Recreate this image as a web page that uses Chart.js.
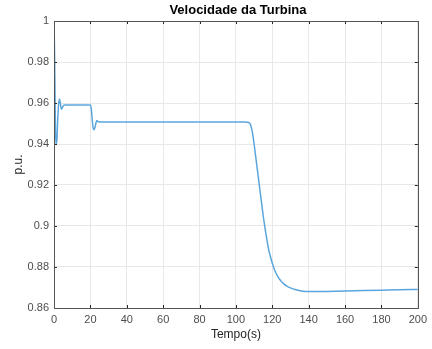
<!DOCTYPE html>
<html>
<head>
<meta charset="utf-8">
<script src="https://cdn.jsdelivr.net/npm/chart.js@4/dist/chart.umd.min.js"></script>
<style>
  html, body { margin: 0; padding: 0; background: #fff; }
  #wrap { width: 432px; height: 349px; }
</style>
</head>
<body>
<div id="wrap"><canvas id="chart" width="432" height="349"></canvas></div>
<script>
// values
const titulo = 'Velocidade da Turbina';
const tempo = [0, 0.3, 0.6, 1.0, 1.5, 2.0, 2.5, 3.0, 3.5, 4.0, 4.5, 5.0, 6.0, 8, 10, 15, 20,
  20.5, 21, 21.5, 22, 22.5, 23, 23.5, 24, 25, 27, 30, 50, 80, 100, 105, 107, 108,
  109, 110, 111, 112, 113, 114, 115, 116, 117, 118, 119, 120, 121, 122, 123, 124,
  125, 126, 128, 130, 133, 136, 140, 145, 150, 160, 170, 180, 190, 200];
const velocidade = [1.0, 0.985, 0.962, 0.940, 0.941, 0.951, 0.959, 0.962, 0.960, 0.957, 0.9575, 0.9585, 0.959, 0.959, 0.959, 0.959, 0.959,
  0.957, 0.952, 0.948, 0.947, 0.948, 0.950, 0.9515, 0.951, 0.9507, 0.9507, 0.9507, 0.9507, 0.9507, 0.9507, 0.9507, 0.9505, 0.9495,
  0.946, 0.940, 0.933, 0.926, 0.919, 0.912, 0.905, 0.899, 0.8935, 0.8885, 0.8850, 0.8818, 0.8792, 0.8771, 0.8754, 0.8740,
  0.8729, 0.8720, 0.8707, 0.8698, 0.8689, 0.8683, 0.8680, 0.8680, 0.8681, 0.8683, 0.8685, 0.8687, 0.8689, 0.8690];
const xTicks = [0, 20, 40, 60, 80, 100, 120, 140, 160, 180, 200];
const yTicks = [0.86, 0.88, 0.9, 0.92, 0.94, 0.96, 0.98, 1];

const pts = tempo.map((t, i) => ({ x: t, y: velocidade[i] }));

// MATLAB-like box, inward ticks and title centred on the axes
const boxPlugin = {
  id: 'box',
  afterDraw(chart) {
    const { ctx, chartArea: a, scales } = chart;
    ctx.save();
    ctx.strokeStyle = '#262626';
    ctx.lineWidth = 1;
    ctx.beginPath();
    xTicks.forEach(v => {
      const px = Math.round(scales.x.getPixelForValue(v)) + 0.5;
      ctx.moveTo(px, a.bottom); ctx.lineTo(px, a.bottom - 3);
      ctx.moveTo(px, a.top); ctx.lineTo(px, a.top + 3);
    });
    yTicks.forEach(v => {
      const py = Math.round(scales.y.getPixelForValue(v)) + 0.5;
      ctx.moveTo(a.left, py); ctx.lineTo(a.left + 3, py);
      ctx.moveTo(a.right, py); ctx.lineTo(a.right - 3, py);
    });
    ctx.stroke();
    ctx.strokeStyle = '#555';
    ctx.strokeRect(Math.round(a.left) + 0.5, Math.round(a.top) + 0.5,
      Math.round(a.right - a.left), Math.round(a.bottom - a.top));

    ctx.fillStyle = '#000';
    ctx.font = 'bold 13px "Liberation Sans"';
    ctx.textAlign = 'center';
    ctx.textBaseline = 'middle';
    ctx.fillText(titulo, (a.left + a.right) / 2 + 2, 10);
    ctx.restore();
  }
};

new Chart(document.getElementById('chart'), {
  type: 'line',
  data: {
    datasets: [{
      data: pts,
      borderColor: '#5aa6dc',
      borderWidth: 1.5,
      pointRadius: 0,
      cubicInterpolationMode: 'monotone',
      fill: false
    }]
  },
  options: {
    responsive: false,
    animation: false,
    layout: { padding: { left: 0, right: 14, top: 21, bottom: 0 } },
    plugins: {
      legend: { display: false },
      tooltip: { enabled: false },
      title: { display: false }
    },
    scales: {
      x: {
        type: 'linear',
        min: 0, max: 200,
        afterBuildTicks: s => { s.ticks = xTicks.map(v => ({ value: v })); },
        afterFit: s => { s.height = 41; },
        grid: { color: '#e8e8e8', drawTicks: false },
        border: { display: false },
        ticks: { color: '#4d4d4d', padding: 5, font: { family: 'Liberation Sans', size: 11 }, maxRotation: 0 },
        title: { display: true, text: 'Tempo(s)', color: '#262626', padding: { top: 0, bottom: 7 },
          font: { family: 'Liberation Sans', size: 12 } }
      },
      y: {
        min: 0.86, max: 1,
        afterBuildTicks: s => { s.ticks = yTicks.map(v => ({ value: v })); },
        afterFit: s => { s.width = 54; },
        grid: { color: '#e8e8e8', drawTicks: false },
        border: { display: false },
        ticks: { color: '#4d4d4d', padding: 5, font: { family: 'Liberation Sans', size: 11 },
          callback: v => String(+v.toFixed(2)) },
        title: { display: true, text: 'p.u.', color: '#262626', padding: { top: 11, bottom: 0 },
          font: { family: 'Liberation Sans', size: 12 } }
      }
    }
  },
  plugins: [boxPlugin]
});
</script>
</body>
</html>
